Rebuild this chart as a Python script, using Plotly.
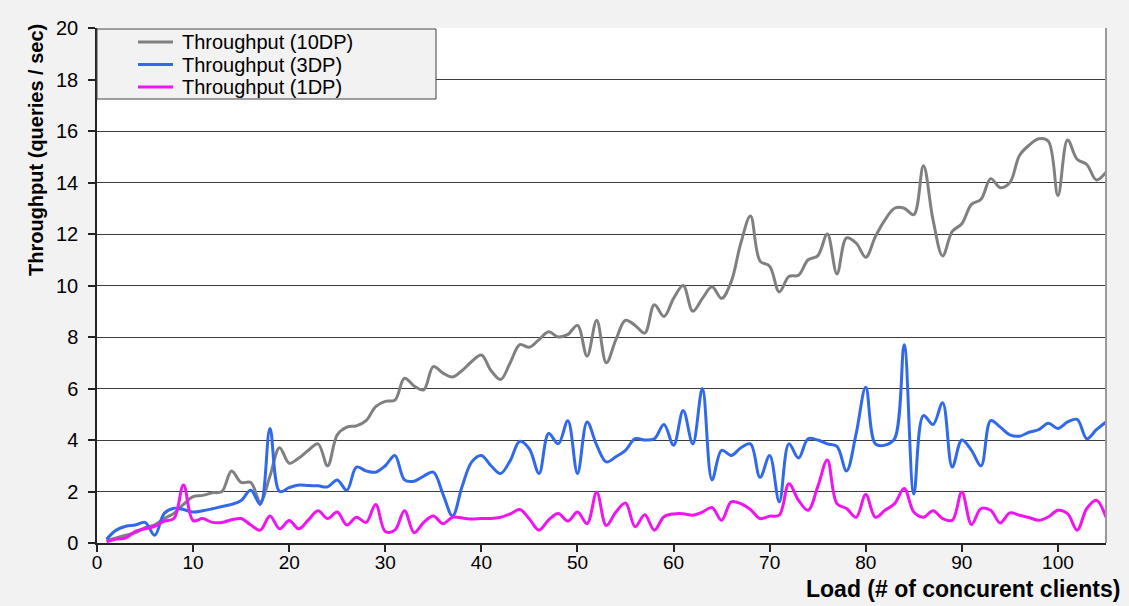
import plotly.graph_objects as go

# ---------------- data ----------------
load = list(range(1, 106))

tp_10dp = [0.1, 0.2, 0.3, 0.4, 0.6, 0.7, 0.95, 1.15, 1.5, 1.8,
           1.85, 1.95, 2.0, 2.8, 2.35, 2.35, 1.6, 2.6, 3.7, 3.1,
           3.3, 3.6, 3.85, 3.0, 4.2, 4.5, 4.55, 4.75, 5.3, 5.5,
           5.55, 6.4, 6.1, 5.95, 6.85, 6.6, 6.45, 6.7, 7.05, 7.3,
           6.7, 6.35, 7.0, 7.7, 7.6, 7.9, 8.2, 8.0, 8.1, 8.45,
           7.25, 8.65, 7.0, 7.9, 8.65, 8.45, 8.15, 9.25, 8.8, 9.5,
           10.0, 9.0, 9.5, 9.95, 9.5, 10.15, 11.65, 12.7, 10.95, 10.75,
           9.75, 10.35, 10.4, 11.0, 11.15, 12.0, 10.45, 11.85, 11.65, 11.1,
           11.9, 12.55, 13.0, 13.0, 12.75, 14.65, 12.55, 11.15, 12.1, 12.4,
           13.15, 13.35, 14.15, 13.8, 14.0, 15.05, 15.45, 15.7, 15.6, 13.5,
           15.65, 14.9, 14.7, 14.1, 14.4]

tp_3dp = [0.15, 0.5, 0.65, 0.7, 0.8, 0.3, 1.15, 1.35, 1.3, 1.2,
          1.25, 1.33, 1.42, 1.5, 1.65, 2.05, 1.5, 4.45, 2.0, 2.15,
          2.25, 2.23, 2.22, 2.18, 2.45, 2.05, 2.95, 2.8, 2.75, 3.0,
          3.4, 2.45, 2.4, 2.6, 2.75, 1.9, 1.05, 2.2, 3.15, 3.4,
          3.0, 2.7, 3.2, 3.95, 3.65, 2.7, 4.25, 3.85, 4.75, 2.7,
          4.7, 3.8, 3.15, 3.35, 3.6, 4.05, 4.0, 4.05, 4.6, 3.8,
          5.15, 3.85, 6.0, 2.45, 3.6, 3.4, 3.7, 3.85, 2.55, 3.4,
          1.6, 3.85, 3.3, 4.05, 4.0, 3.85, 3.75, 2.8, 4.25, 6.05,
          3.85, 3.8, 4.05, 7.7, 1.9, 4.95, 4.6, 5.45, 2.95, 4.0,
          3.6, 3.0, 4.75, 4.5, 4.2, 4.15, 4.3, 4.4, 4.65, 4.45,
          4.7, 4.8, 4.05, 4.4, 4.7]

tp_1dp = [0.05, 0.15, 0.2, 0.45, 0.55, 0.65, 0.85, 0.95, 2.25, 0.87,
          0.95, 0.8, 0.8, 0.9, 0.95, 0.7, 0.5, 1.05, 0.55, 0.87,
          0.55, 0.9, 1.25, 0.95, 1.2, 0.7, 1.0, 0.8, 1.5, 0.45,
          0.5, 1.25, 0.4, 0.8, 1.05, 0.75, 1.0, 0.97, 0.93, 0.95,
          0.95, 1.0, 1.13, 1.3, 0.93, 0.5, 0.9, 1.15, 0.85, 1.2,
          0.75, 1.97, 0.68, 1.2, 1.55, 0.63, 1.1, 0.5, 1.02, 1.13,
          1.14, 1.08, 1.2, 1.38, 0.88, 1.6, 1.53, 1.3, 0.95, 1.04,
          1.08, 2.3, 1.66, 1.27, 2.18, 3.22, 1.53, 1.34, 1.0, 1.88,
          1.0, 1.27, 1.53, 2.12, 1.2, 1.0, 1.25, 0.95, 0.88, 1.98,
          0.72, 1.34, 1.27, 0.78, 1.17, 1.08, 0.99, 0.88, 1.01, 1.27,
          1.14, 0.5, 1.34, 1.66, 1.0]

series_names = ["Throughput (10DP)", "Throughput (3DP)", "Throughput (1DP)"]
series_values = [tp_10dp, tp_3dp, tp_1dp]
series_colors = ["#808080", "#3169ec", "#f014f0"]

x_title = "Load (# of concurent clients)"
y_title = "Throughput (queries / sec)"

FONT = "Liberation Sans, Arial, sans-serif"

# ---------------- figure ----------------
fig = go.Figure()
for name, vals, col in zip(series_names, series_values, series_colors):
    fig.add_trace(go.Scatter(
        x=load, y=vals, name=name, mode="lines",
        line=dict(color=col, width=3, shape="spline", smoothing=1.0),
        showlegend=False,
    ))

W, H = 1129, 606
ML, MR, MT, MB = 97, 23, 28, 63
PW = W - ML - MR
PH = H - MT - MB


def px_x(p):
    return (p - ML) / PW


def px_y(p):
    return (H - MB - p) / PH


shapes = [
    # right border of plot area
    dict(type="line", xref="paper", yref="paper", x0=1, x1=1, y0=0, y1=1,
         line=dict(color="#9a9a9a", width=2)),
    # legend box
    dict(type="rect", xref="paper", yref="paper",
         x0=px_x(97), x1=px_x(436), y0=px_y(99), y1=px_y(29),
         fillcolor="#f2f2f2", line=dict(color="#404040", width=1), layer="above"),
]
annotations = []
row_y = [42, 64.5, 87]
for name, col, ry in zip(series_names, series_colors, row_y):
    shapes.append(dict(type="line", xref="paper", yref="paper",
                       x0=px_x(138), x1=px_x(173), y0=px_y(ry), y1=px_y(ry),
                       line=dict(color=col, width=3), layer="above"))
    annotations.append(dict(text=name, xref="paper", yref="paper",
                            x=px_x(180), y=px_y(ry), xanchor="left", yanchor="middle",
                            showarrow=False, font=dict(family=FONT, size=20, color="black")))

annotations.append(dict(text=y_title, xref="paper", yref="paper",
                        x=px_x(36), y=px_y(150), xanchor="center", yanchor="middle",
                        textangle=-90, showarrow=False,
                        font=dict(family=FONT, size=20, color="black", weight="bold")))
annotations.append(dict(text=x_title, xref="paper", yref="paper",
                        x=px_x(1122), y=px_y(589), xanchor="right", yanchor="middle",
                        showarrow=False,
                        font=dict(family=FONT, size=23, color="black", weight="bold")))

fig.update_layout(
    width=W, height=H,
    margin=dict(l=ML, r=MR, t=MT, b=MB, pad=0),
    paper_bgcolor="#f2f2f2",
    plot_bgcolor="white",
    showlegend=False,
    shapes=shapes,
    annotations=annotations,
    xaxis=dict(range=[0, 105], tick0=0, dtick=10, showgrid=False, zeroline=False,
               showline=True, linecolor="#222222", linewidth=1.5,
               ticks="outside", ticklen=7, tickcolor="#222222", tickwidth=1.5,
               ticklabelstandoff=-6,
               tickfont=dict(family=FONT, size=19, color="black")),
    yaxis=dict(range=[0, 20], tick0=0, dtick=2, showgrid=True, gridcolor="#3c3c3c",
               gridwidth=1.3, zeroline=False,
               showline=True, linecolor="#222222", linewidth=1.5,
               ticks="outside", ticklen=7, tickcolor="#222222", tickwidth=1.5,
               ticklabelstandoff=6,
               tickfont=dict(family=FONT, size=20, color="black")),
)

fig.write_html("out.html", config={"displayModeBar": False},
               post_script="document.body.style.margin='0';")
